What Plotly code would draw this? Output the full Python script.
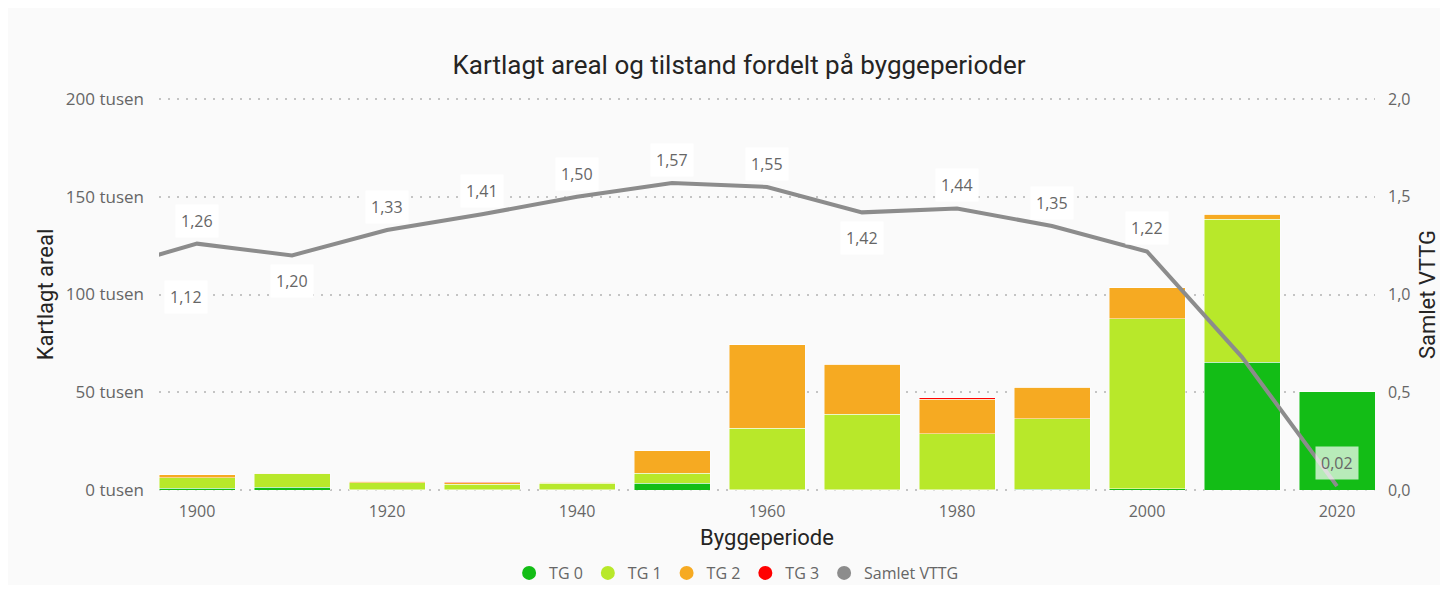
import plotly.graph_objects as go

# ---------------- data ----------------
years = [1900, 1910, 1920, 1930, 1940, 1950, 1960, 1970, 1980, 1990, 2000, 2010, 2020]
tg0 = [0.8, 1.5, 0.1, 0.1, 0.1, 3.4, 0.2, 0.2, 0.2, 0.5, 0.7, 65.3, 50.3]
tg1 = [5.5, 6.8, 3.7, 2.9, 3.4, 5.3, 31.5, 38.5, 28.6, 36.0, 86.9, 73.2, 0.2]
tg2 = [1.4, 0.2, 0.8, 0.7, 0.5, 11.4, 42.7, 25.6, 17.7, 16.0, 15.9, 2.5, 0.0]
tg3 = [0.0, 0.0, 0.0, 0.4, 0.0, 0.0, 0.0, 0.0, 0.6, 0.0, 0.0, 0.0, 0.0]

vttg_years = [1890, 1900, 1910, 1920, 1930, 1940, 1950, 1960, 1970, 1980, 1990, 2000, 2010, 2020]
vttg = [1.12, 1.26, 1.20, 1.33, 1.41, 1.50, 1.57, 1.55, 1.42, 1.44, 1.35, 1.22, 0.68, 0.02]
label_pos = ["below", "above", "below", "above", "above", "above", "above", "above",
             "below", "above", "above", "above", None, "above"]

left_ticks = [0, 50, 100, 150, 200]          # tusen
right_ticks = [0, 0.5, 1.0, 1.5, 2.0]
x_ticks = [1900, 1920, 1940, 1960, 1980, 2000, 2020]

series_names = ["TG 0", "TG 1", "TG 2", "TG 3"]
series_vals = [tg0, tg1, tg2, tg3]
series_colors = ["#13BD16", "#B8E82A", "#F6AA22", "#FF0000"]
line_color = "#8C8C8C"

x_range = [1896, 2024]
bar_width = 8

label_font = "Segoe UI, Open Sans, Noto Sans, sans-serif"
title_font = "DIN, Roboto, Lato, sans-serif"
tick_color = "#666666"
title_color = "#252423"

fig = go.Figure()

for name, vals, col in zip(series_names, series_vals, series_colors):
    fig.add_trace(go.Bar(
        x=years, y=vals, name=name, width=bar_width,
        marker=dict(color=col, line=dict(color="rgba(255,255,255,0.6)", width=0.8)),
        showlegend=False, legendgroup=name, yaxis="y",
    ))

fig.add_trace(go.Scatter(
    x=vttg_years, y=vttg, name="Samlet VTTG", mode="lines",
    line=dict(color=line_color, width=4), yaxis="y2",
    showlegend=False, legendgroup="Samlet VTTG",
))

# legend entries (circle symbols as in the reference)
for name, col in zip(series_names + ["Samlet VTTG"], series_colors + [line_color]):
    fig.add_trace(go.Scatter(
        x=[None], y=[None], mode="markers", name=name, legendgroup=name,
        marker=dict(color=col, size=14, symbol="circle"), showlegend=True,
    ))

# data labels for the line
for yr, v, pos in zip(vttg_years, vttg, label_pos):
    if pos is None:
        continue
    clamped = yr < x_range[0]
    xa = x_range[0] if clamped else yr
    txt = f"{v:.2f}".replace(".", ",")
    is_last = yr == vttg_years[-1]
    fig.add_annotation(
        x=xa, y=v, xref="x", yref="y2", text=txt, showarrow=False,
        xanchor="left" if clamped else "center", yanchor="middle",
        xshift=5 if clamped else 0,
        yshift=23 if pos == "above" else -26,
        font=dict(family=label_font, size=16, color=tick_color),
        bgcolor="rgba(255,255,255,0.7)" if is_last else "#FFFFFF",
        borderpad=5,
    )

grid = dict(showgrid=True, gridcolor="#C4C4C4", griddash="1.5px,7.5px", gridwidth=1.5)

fig.update_layout(
    width=1432, height=577,
    margin=dict(l=151, r=65, t=89, b=93, autoexpand=False),
    paper_bgcolor="#FAFAFA", plot_bgcolor="#FAFAFA",
    barmode="stack", bargap=0.2,
    separators=", ",
    title=dict(text="Kartlagt areal og tilstand fordelt på byggeperioder",
               xref="container", x=0.5105, xanchor="center",
               yref="container", y=0.901, yanchor="middle",
               font=dict(family=title_font, size=26, color=title_color)),
    xaxis=dict(
        range=x_range, tickvals=x_ticks,
        showgrid=False, zeroline=False, showline=False,
        tickfont=dict(family=label_font, size=16, color=tick_color),
        ticks="", ticklabelstandoff=8, automargin=False,
        title=dict(text="Byggeperiode", standoff=8,
                   font=dict(family=title_font, size=22, color=title_color)),
    ),
    yaxis=dict(
        range=[-1, 201], tickvals=left_ticks,
        ticktext=[f"{v} tusen" for v in left_ticks],
        zeroline=False, showline=False, ticks="", ticklabelstandoff=14,
        automargin=False,
        tickfont=dict(family=label_font, size=17, color=tick_color),
        title=dict(text="Kartlagt areal", standoff=6,
                   font=dict(family=title_font, size=22, color=title_color)),
        **grid,
    ),
    yaxis2=dict(
        range=[-0.01, 2.01], tickvals=right_ticks, tickformat=".1f",
        overlaying="y", side="right", showgrid=False, zeroline=False,
        showline=False, ticks="", ticklabelstandoff=12, automargin=False,
        tickfont=dict(family=label_font, size=16, color=tick_color),
        title=dict(text="Samlet VTTG", standoff=20,
                   font=dict(family=title_font, size=22, color=title_color)),
    ),
    legend=dict(orientation="h", x=0.475, xanchor="center", y=-0.205, yanchor="middle",
                font=dict(family=label_font, size=16, color=tick_color),
                itemwidth=30, bgcolor="rgba(0,0,0,0)", traceorder="normal"),
)

fig.write_html("out.html")
